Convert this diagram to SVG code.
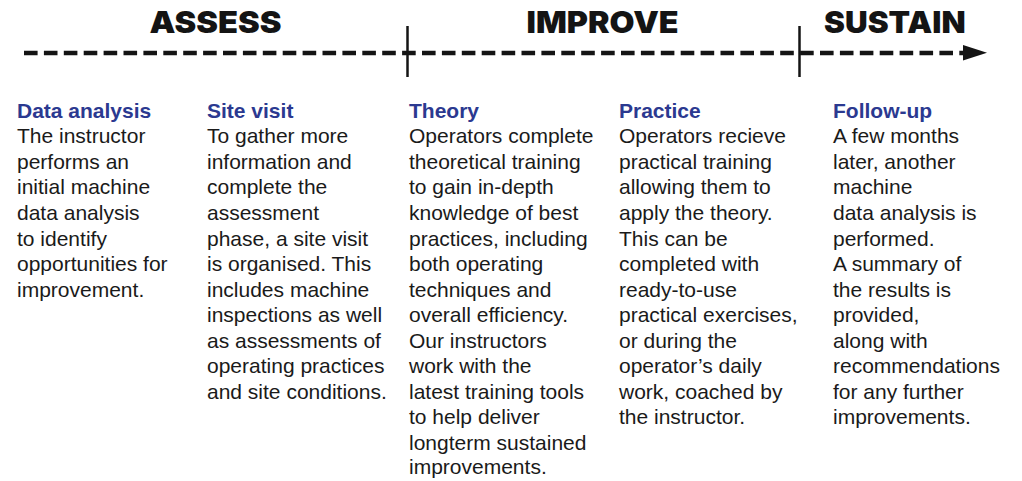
<svg xmlns="http://www.w3.org/2000/svg" width="1022" height="481" viewBox="0 0 1022 481">
  <style>
    .phase { font-family: "Inter", "Lato", "DejaVu Sans", sans-serif; font-weight: 900; font-size: 30px; fill: #141414; text-anchor: middle; }
    .title { font-family: "Liberation Sans", Arial, sans-serif; font-weight: bold; font-size: 21px; fill: #2B3990; }
    .body { font-family: "Liberation Sans", Arial, sans-serif; font-size: 21px; fill: #1a1a1a; }
    .dash { stroke: #141414; stroke-width: 4.6; stroke-dasharray: 13.6 6.3; fill: none; }
    .tick { stroke: #141414; stroke-width: 2.5; }
  </style>
  <rect width="1022" height="481" fill="#ffffff"/>
  <g id="timeline">
    <line class="dash" x1="24" y1="53" x2="964" y2="53"/>
    <polygon points="963,45 987,52.8 963,60.5" fill="#141414"/>
    <line class="tick" x1="407.5" y1="26" x2="407.5" y2="77"/>
    <line class="tick" x1="799.5" y1="26" x2="799.5" y2="77"/>
  </g>
  <g id="phases">
    <text class="phase" x="215.5" y="33.3" textLength="132" lengthAdjust="spacingAndGlyphs">ASSESS</text>
    <text class="phase" x="602.6" y="33.3" textLength="152" lengthAdjust="spacingAndGlyphs">IMPROVE</text>
    <text class="phase" x="894.8" y="33.3" textLength="141.6" lengthAdjust="spacingAndGlyphs">SUSTAIN</text>
  </g>
  <g id="data-analysis">
    <text class="title" x="17" y="117.7">Data analysis</text>
    <text class="body" x="17" y="143.3">
      <tspan x="17" dy="0">The instructor</tspan>
      <tspan x="17" dy="25.55">performs an</tspan>
      <tspan x="17" dy="25.55">initial machine</tspan>
      <tspan x="17" dy="25.55">data analysis</tspan>
      <tspan x="17" dy="25.55">to identify</tspan>
      <tspan x="17" dy="25.55">opportunities for</tspan>
      <tspan x="17" dy="25.55">improvement.</tspan>
    </text>
  </g>
  <g id="site-visit">
    <text class="title" x="207" y="117.7">Site visit</text>
    <text class="body" x="207" y="143.3">
      <tspan x="207" dy="0">To gather more</tspan>
      <tspan x="207" dy="25.55">information and</tspan>
      <tspan x="207" dy="25.55">complete the</tspan>
      <tspan x="207" dy="25.55">assessment</tspan>
      <tspan x="207" dy="25.55">phase, a site visit</tspan>
      <tspan x="207" dy="25.55">is organised. This</tspan>
      <tspan x="207" dy="25.55">includes machine</tspan>
      <tspan x="207" dy="25.55">inspections as well</tspan>
      <tspan x="207" dy="25.55">as assessments of</tspan>
      <tspan x="207" dy="25.55">operating practices</tspan>
      <tspan x="207" dy="25.55">and site conditions.</tspan>
    </text>
  </g>
  <g id="theory">
    <text class="title" x="409" y="117.7">Theory</text>
    <text class="body" x="409" y="143.3">
      <tspan x="409" dy="0">Operators complete</tspan>
      <tspan x="409" dy="25.55">theoretical training</tspan>
      <tspan x="409" dy="25.55">to gain in-depth</tspan>
      <tspan x="409" dy="25.55">knowledge of best</tspan>
      <tspan x="409" dy="25.55">practices, including</tspan>
      <tspan x="409" dy="25.55">both operating</tspan>
      <tspan x="409" dy="25.55">techniques and</tspan>
      <tspan x="409" dy="25.55">overall efficiency.</tspan>
      <tspan x="409" dy="25.55">Our instructors</tspan>
      <tspan x="409" dy="25.55">work with the</tspan>
      <tspan x="409" dy="25.55">latest training tools</tspan>
      <tspan x="409" dy="25.55">to help deliver</tspan>
      <tspan x="409" dy="25.55">longterm sustained</tspan>
      <tspan x="409" dy="24.5">improvements.</tspan>
    </text>
  </g>
  <g id="practice">
    <text class="title" x="619" y="117.7">Practice</text>
    <text class="body" x="619" y="143.3">
      <tspan x="619" dy="0">Operators recieve</tspan>
      <tspan x="619" dy="25.55">practical training</tspan>
      <tspan x="619" dy="25.55">allowing them to</tspan>
      <tspan x="619" dy="25.55">apply the theory.</tspan>
      <tspan x="619" dy="25.55">This can be</tspan>
      <tspan x="619" dy="25.55">completed with</tspan>
      <tspan x="619" dy="25.55">ready-to-use</tspan>
      <tspan x="619" dy="25.55">practical exercises,</tspan>
      <tspan x="619" dy="25.55">or during the</tspan>
      <tspan x="619" dy="25.55">operator’s daily</tspan>
      <tspan x="619" dy="25.55">work, coached by</tspan>
      <tspan x="619" dy="25.55">the instructor.</tspan>
    </text>
  </g>
  <g id="follow-up">
    <text class="title" x="833" y="117.7">Follow-up</text>
    <text class="body" x="833" y="143.3">
      <tspan x="833" dy="0">A few months</tspan>
      <tspan x="833" dy="25.55">later, another</tspan>
      <tspan x="833" dy="25.55">machine</tspan>
      <tspan x="833" dy="25.55">data analysis is</tspan>
      <tspan x="833" dy="25.55">performed.</tspan>
      <tspan x="833" dy="25.55">A summary of</tspan>
      <tspan x="833" dy="25.55">the results is</tspan>
      <tspan x="833" dy="25.55">provided,</tspan>
      <tspan x="833" dy="25.55">along with</tspan>
      <tspan x="833" dy="25.55">recommendations</tspan>
      <tspan x="833" dy="25.55">for any further</tspan>
      <tspan x="833" dy="25.55">improvements.</tspan>
    </text>
  </g>
</svg>
